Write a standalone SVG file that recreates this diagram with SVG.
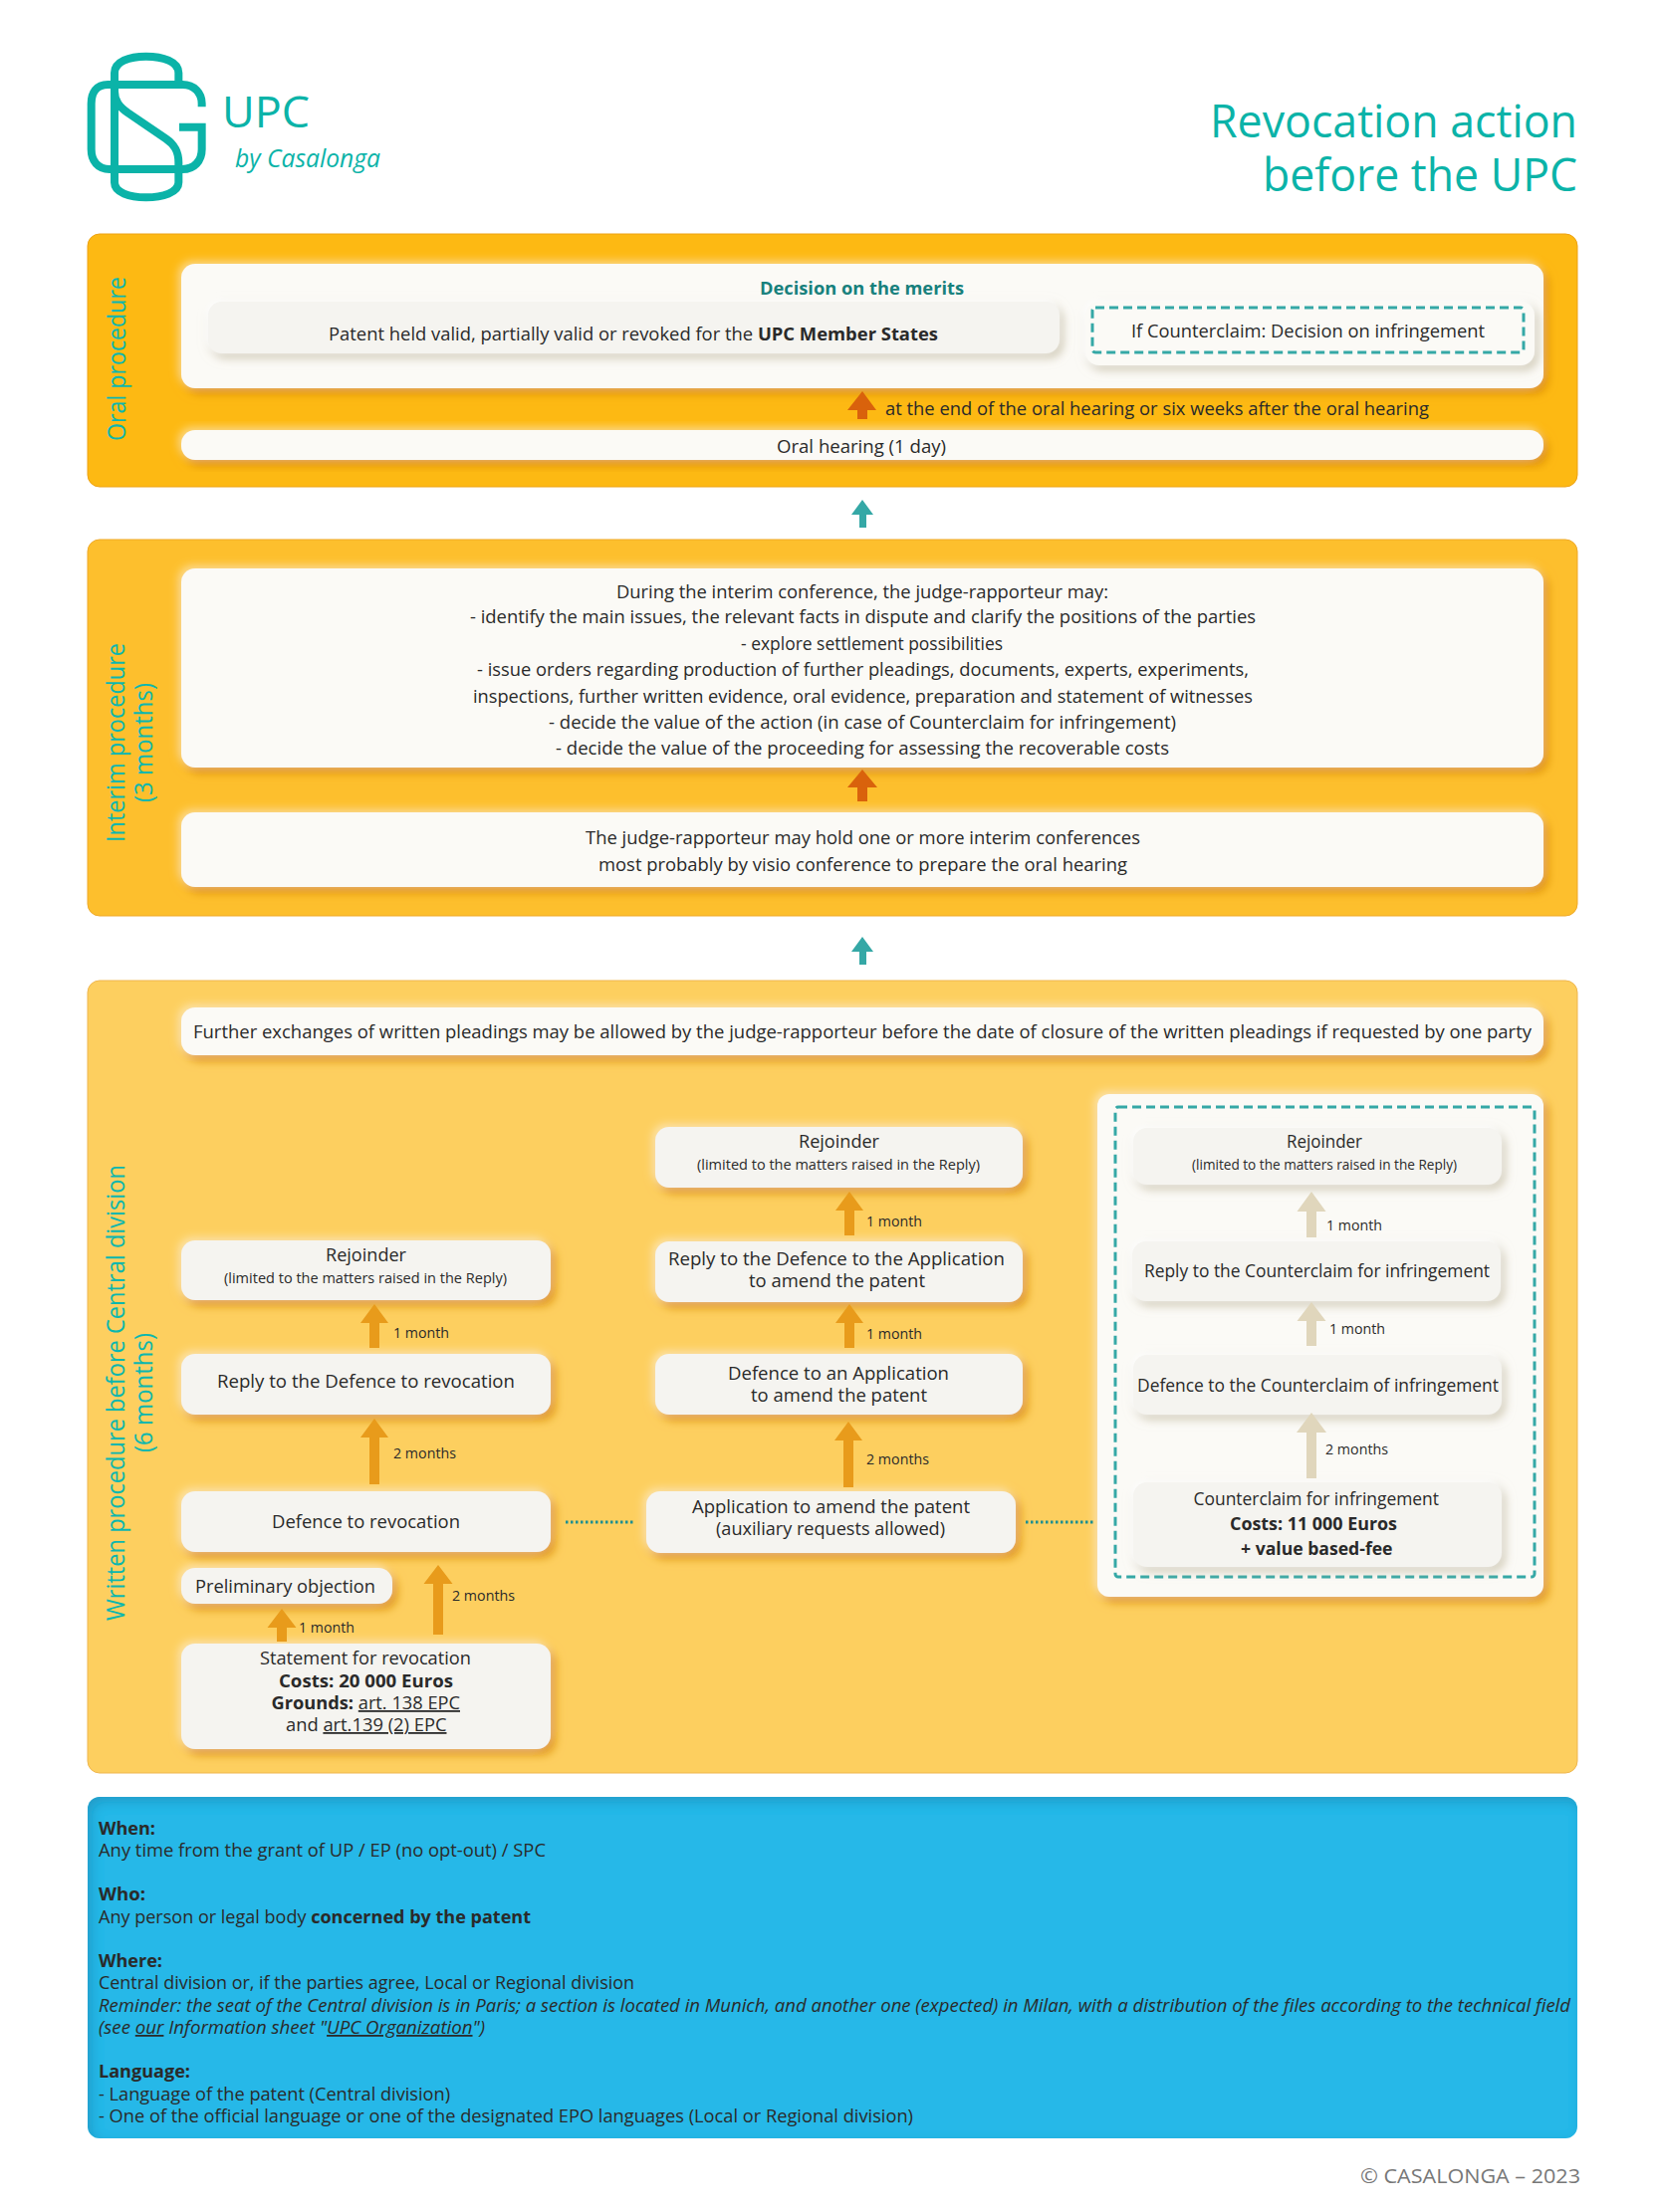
<svg xmlns="http://www.w3.org/2000/svg" width="1666" height="2222" viewBox="0 0 1666 2222">
<defs>
<filter id="sh" x="-10%" y="-30%" width="120%" height="170%"><feDropShadow dx="-3" dy="-3" stdDeviation="4" flood-color="#fff" flood-opacity=".45"/><feDropShadow dx="5" dy="6" stdDeviation="4" flood-color="#d88a10" flood-opacity=".75"/></filter>
<filter id="shl" x="-10%" y="-30%" width="120%" height="170%"><feDropShadow dx="-2" dy="-2" stdDeviation="3" flood-color="#fff" flood-opacity=".9"/><feDropShadow dx="4" dy="5" stdDeviation="4" flood-color="#bdb49a" flood-opacity=".6"/></filter>
<filter id="inner" x="-2%" y="-5%" width="104%" height="110%"><feFlood flood-color="#1a6f96" flood-opacity=".45"/><feComposite in2="SourceAlpha" operator="out"/><feOffset dx="4" dy="5"/><feGaussianBlur stdDeviation="6"/><feComposite in2="SourceAlpha" operator="in" result="i"/><feMerge><feMergeNode in="SourceGraphic"/><feMergeNode in="i"/></feMerge></filter>
</defs>
<style>
text{font-family:"Open Sans","Noto Sans","Liberation Sans",sans-serif;font-size:18px;fill:#2a2a2a}
.m{font-size:15px}.l{font-size:15px}
.b,tspan.b{font-weight:700}
.u{text-decoration:underline}
.i{font-style:italic}
.teal{fill:#0bb3a8}
.side{font-size:25px;fill:#0bb7ae}
.box{fill:#f5f4f0}
.wh{fill:#fbfaf6}
.arrow{fill:#e89b1b}.beige{fill:#e0d6bc}.dark{fill:#d9620c}.tealarrow{fill:#35a8a6}
.dash{fill:none;stroke:#35a8a6;stroke-width:3;stroke-dasharray:9 5}
.dots{fill:none;stroke:#1c8f92;stroke-width:3;stroke-dasharray:2.5 2.5}
</style>
<rect width="1666" height="2222" fill="#fff"/>

<g id="logo" fill="none" stroke="#0bb3a8" stroke-width="24" transform="translate(60 30) scale(.33333)">
<path d="M358 165V130C358 95 310 80 260 80C210 80 165 95 165 130V460C165 490 210 505 260 505C310 505 358 490 358 460V400C358 365 345 345 320 328L205 250C180 232 165 215 165 185"/>
<path d="M428 232V222C428 190 405 165 370 165H145C110 165 95 190 95 222V360C95 395 115 420 150 420H370C405 420 428 395 428 360V293H360"/>
</g>
<text class="teal" x="223" y="128" style="font-size:44px" textLength="88" lengthAdjust="spacingAndGlyphs">UPC</text>
<text class="teal i" x="236" y="168" style="font-size:26px" textLength="146" lengthAdjust="spacingAndGlyphs">by Casalonga</text>
<g id="title">
<text class="teal" x="1215" y="138" style="font-size:46px" textLength="369" lengthAdjust="spacingAndGlyphs">Revocation action</text>
<text class="teal" x="1268" y="192" style="font-size:46px" textLength="316" lengthAdjust="spacingAndGlyphs">before the UPC</text>
</g>

<g id="panel-oral">
<rect x="88" y="235" width="1496" height="254" rx="12" fill="#fdb913" stroke="#eda215" stroke-width="1"/>
<text class="side" transform="rotate(-90 126 443)" x="126" y="443" textLength="165" lengthAdjust="spacingAndGlyphs">Oral procedure</text>
</g>
<g id="panel-interim">
<rect x="88" y="542" width="1496" height="378" rx="12" fill="#fdbf2d" stroke="#efa928" stroke-width="1"/>
<text class="side" transform="rotate(-90 125 846)" x="125" y="846" textLength="200" lengthAdjust="spacingAndGlyphs">Interim procedure</text>
<text class="side" transform="rotate(-90 153 806)" x="153" y="806" textLength="120" lengthAdjust="spacingAndGlyphs">(3 months)</text>
</g>
<g id="panel-written">
<rect x="88" y="985" width="1496" height="796" rx="12" fill="#fdcf5f" stroke="#efb64e" stroke-width="1"/>
<text class="side" transform="rotate(-90 125 1628)" x="125" y="1628" textLength="458" lengthAdjust="spacingAndGlyphs">Written procedure before Central division</text>
<text class="side" transform="rotate(-90 153 1459)" x="153" y="1459" textLength="120" lengthAdjust="spacingAndGlyphs">(6 months)</text>
</g>

<g id="decision">
<rect class="wh" x="182" y="265" width="1368" height="125" rx="14" filter="url(#sh)"/>
<text class="b" x="763" y="296" style="fill:#17807c" textLength="205" lengthAdjust="spacingAndGlyphs">Decision on the merits</text>
</g>
<g id="patent-held">
<rect class="box" x="209" y="303" width="855" height="52" rx="14" filter="url(#shl)"/>
<text x="330" y="342" textLength="612" lengthAdjust="spacingAndGlyphs">Patent held valid, partially valid or revoked for the <tspan class="b">UPC Member States</tspan></text>
</g>
<g id="if-counterclaim">
<rect class="wh" x="1090" y="303" width="451" height="64" rx="14" filter="url(#shl)"/>
<rect class="dash" x="1097" y="309" width="433" height="45" rx="3"/>
<text x="1136" y="339" textLength="355" lengthAdjust="spacingAndGlyphs">If Counterclaim: Decision on infringement</text>
</g>
<g id="oral-hearing">
<rect class="wh" x="182" y="432" width="1368" height="30" rx="14" filter="url(#sh)"/>
<text x="780" y="455" textLength="170" lengthAdjust="spacingAndGlyphs">Oral hearing (1 day)</text>
</g>
<g id="interim-conference">
<rect class="wh" x="182" y="571" width="1368" height="200" rx="14" filter="url(#sh)"/>
<text x="619" y="600.500" textLength="494" lengthAdjust="spacingAndGlyphs">During the interim conference, the judge-rapporteur may:</text>
<text x="472" y="626" textLength="789" lengthAdjust="spacingAndGlyphs">- identify the main issues, the relevant facts in dispute and clarify the positions of the parties</text>
<text x="744" y="653" textLength="263" lengthAdjust="spacingAndGlyphs">- explore settlement possibilities</text>
<text x="479" y="679" textLength="775" lengthAdjust="spacingAndGlyphs">- issue orders regarding production of further pleadings, documents, experts, experiments,</text>
<text x="475" y="705.500" textLength="783" lengthAdjust="spacingAndGlyphs">inspections, further written evidence, oral evidence, preparation and statement of witnesses</text>
<text x="551" y="732" textLength="630" lengthAdjust="spacingAndGlyphs">- decide the value of the action (in case of Counterclaim for infringement)</text>
<text x="558" y="758" textLength="616" lengthAdjust="spacingAndGlyphs">- decide the value of the proceeding for assessing the recoverable costs</text>
</g>
<g id="interim-hold">
<rect class="wh" x="182" y="816" width="1368" height="75" rx="14" filter="url(#sh)"/>
<text x="588" y="848" textLength="557" lengthAdjust="spacingAndGlyphs">The judge-rapporteur may hold one or more interim conferences</text>
<text x="601" y="875" textLength="531" lengthAdjust="spacingAndGlyphs">most probably by visio conference to prepare the oral hearing</text>
</g>
<g id="further-exchanges">
<rect class="wh" x="182" y="1012" width="1368" height="48" rx="14" filter="url(#sh)"/>
<text x="194" y="1043" textLength="1344" lengthAdjust="spacingAndGlyphs">Further exchanges of written pleadings may be allowed by the judge-rapporteur before the date of closure of the written pleadings if requested by one party</text>
</g>

<g id="left-rejoinder">
<rect class="box" x="182" y="1246" width="371" height="60" rx="14" filter="url(#sh)"/>
<text x="327" y="1267" textLength="81" lengthAdjust="spacingAndGlyphs">Rejoinder</text>
<text class="l" x="225" y="1289" textLength="284" lengthAdjust="spacingAndGlyphs">(limited to the matters raised in the Reply)</text>
</g>
<g id="left-reply">
<rect class="box" x="182" y="1360" width="371" height="61" rx="14" filter="url(#sh)"/>
<text x="218" y="1394" textLength="299" lengthAdjust="spacingAndGlyphs">Reply to the Defence to revocation</text>
</g>
<g id="left-defence">
<rect class="box" x="182" y="1498" width="371" height="61" rx="14" filter="url(#sh)"/>
<text x="273" y="1535" textLength="189" lengthAdjust="spacingAndGlyphs">Defence to revocation</text>
</g>
<g id="preliminary-objection">
<rect class="box" x="182" y="1575" width="212" height="36" rx="14" filter="url(#sh)"/>
<text x="196" y="1600" textLength="181" lengthAdjust="spacingAndGlyphs">Preliminary objection</text>
</g>
<g id="statement">
<rect class="box" x="182" y="1651" width="371" height="106" rx="14" filter="url(#sh)"/>
<text x="261" y="1672" textLength="212" lengthAdjust="spacingAndGlyphs">Statement for revocation</text>
<text class="b" x="280" y="1695" textLength="175" lengthAdjust="spacingAndGlyphs">Costs: 20 000 Euros</text>
<text x="272.500" y="1717" textLength="189.500" lengthAdjust="spacingAndGlyphs"><tspan class="b">Grounds:</tspan> <tspan class="u">art. 138 EPC</tspan></text>
<text x="287" y="1739" textLength="161.500" lengthAdjust="spacingAndGlyphs">and <tspan class="u">art.139 (2) EPC</tspan></text>
</g>

<g id="mid-rejoinder">
<rect class="box" x="658" y="1132" width="369" height="61" rx="14" filter="url(#sh)"/>
<text x="802" y="1153" textLength="81" lengthAdjust="spacingAndGlyphs">Rejoinder</text>
<text class="l" x="700" y="1175" textLength="284" lengthAdjust="spacingAndGlyphs">(limited to the matters raised in the Reply)</text>
</g>
<g id="mid-reply">
<rect class="box" x="658" y="1247" width="369" height="61" rx="14" filter="url(#sh)"/>
<text x="671" y="1271" textLength="338" lengthAdjust="spacingAndGlyphs">Reply to the Defence to the Application</text>
<text x="752" y="1293" textLength="177" lengthAdjust="spacingAndGlyphs">to amend the patent</text>
</g>
<g id="mid-defence">
<rect class="box" x="658" y="1360" width="369" height="61" rx="14" filter="url(#sh)"/>
<text x="731" y="1386" textLength="222" lengthAdjust="spacingAndGlyphs">Defence to an Application</text>
<text x="754" y="1408" textLength="177" lengthAdjust="spacingAndGlyphs">to amend the patent</text>
</g>
<g id="application">
<rect class="box" x="649" y="1498" width="371" height="62" rx="14" filter="url(#sh)"/>
<text x="695" y="1520" textLength="279" lengthAdjust="spacingAndGlyphs">Application to amend the patent</text>
<text x="719" y="1542" textLength="230" lengthAdjust="spacingAndGlyphs">(auxiliary requests allowed)</text>
</g>

<g id="counterclaim-panel">
<rect class="wh" x="1102" y="1099" width="448" height="505" rx="12" filter="url(#sh)"/>
<rect class="dash" x="1120" y="1112" width="421" height="472" rx="3"/>
</g>
<g id="cc-rejoinder">
<rect class="box" x="1138" y="1133" width="370" height="57" rx="14" filter="url(#shl)"/>
<text x="1292" y="1153" textLength="76" lengthAdjust="spacingAndGlyphs">Rejoinder</text>
<text class="l" x="1197" y="1175" textLength="266" lengthAdjust="spacingAndGlyphs">(limited to the matters raised in the Reply)</text>
</g>
<g id="cc-reply">
<rect class="box" x="1137" y="1247" width="370" height="60" rx="14" filter="url(#shl)"/>
<text x="1149" y="1283" textLength="347" lengthAdjust="spacingAndGlyphs">Reply to the Counterclaim for infringement</text>
</g>
<g id="cc-defence">
<rect class="box" x="1138" y="1361" width="370" height="60" rx="14" filter="url(#shl)"/>
<text x="1142" y="1398" textLength="363" lengthAdjust="spacingAndGlyphs">Defence to the Counterclaim of infringement</text>
</g>
<g id="cc-counterclaim">
<rect class="box" x="1138" y="1489" width="370" height="85" rx="14" filter="url(#shl)"/>
<text x="1198.500" y="1512" textLength="246.500" lengthAdjust="spacingAndGlyphs">Counterclaim for infringement</text>
<text class="b" x="1235" y="1537" textLength="168" lengthAdjust="spacingAndGlyphs">Costs: 11 000 Euros</text>
<text class="b" x="1246" y="1562" textLength="152.500" lengthAdjust="spacingAndGlyphs">+ value based-fee</text>
</g>

<g id="connectors">
<path class="dark" d="M866 393L880 412H871V421H861V412H851Z"/>
<path class="tealarrow" d="M866 502L877 517H870V530H863V517H855Z"/>
<path class="dark" d="M866 773L881 791H871V805H861V791H851Z"/>
<path class="tealarrow" d="M866 941L877 956H870V969H863V956H855Z"/>
<path class="arrow" d="M283 1616L297.500 1635H288V1649H278V1635H268.500Z"/>
<path class="arrow" d="M440 1572L454.500 1591H445V1642H435V1591H425.500Z"/>
<path class="arrow" d="M376 1425L390 1444H381V1491H371V1444H362Z"/>
<path class="arrow" d="M376 1310L390 1329H381V1354H371V1329H362Z"/>
<path class="arrow" d="M852 1428L866 1447H857V1494H847V1447H838Z"/>
<path class="arrow" d="M853 1310L867 1329H858V1354H848V1329H839Z"/>
<path class="arrow" d="M853 1197L867 1216H858V1241H848V1216H839Z"/>
<path class="beige" d="M1317 1197L1331.500 1217H1322V1243H1312V1217H1302.500Z"/>
<path class="beige" d="M1317 1308L1331.500 1327H1322V1352H1312V1327H1302.500Z"/>
<path class="beige" d="M1317 1419L1332 1439H1322V1485H1312V1439H1302Z"/>
<path class="dots" d="M568 1529H638"/>
<path class="dots" d="M1030 1529H1100"/>
</g>
<g id="connector-labels">
<text x="889" y="417" textLength="546" lengthAdjust="spacingAndGlyphs">at the end of the oral hearing or six weeks after the oral hearing</text>
<text class="m" x="300" y="1640" textLength="56" lengthAdjust="spacingAndGlyphs">1 month</text>
<text class="m" x="454" y="1608" textLength="63" lengthAdjust="spacingAndGlyphs">2 months</text>
<text class="m" x="395" y="1344" textLength="56" lengthAdjust="spacingAndGlyphs">1 month</text>
<text class="m" x="395" y="1465" textLength="63" lengthAdjust="spacingAndGlyphs">2 months</text>
<text class="m" x="870" y="1232" textLength="56" lengthAdjust="spacingAndGlyphs">1 month</text>
<text class="m" x="870" y="1345" textLength="56" lengthAdjust="spacingAndGlyphs">1 month</text>
<text class="m" x="870" y="1471" textLength="63" lengthAdjust="spacingAndGlyphs">2 months</text>
<text class="m" x="1332" y="1236" textLength="56" lengthAdjust="spacingAndGlyphs">1 month</text>
<text class="m" x="1335" y="1340" textLength="56" lengthAdjust="spacingAndGlyphs">1 month</text>
<text class="m" x="1331" y="1461" textLength="63" lengthAdjust="spacingAndGlyphs">2 months</text>
</g>

<g id="info-panel">
<rect x="88" y="1805" width="1496" height="343" rx="12" fill="#25b8e8" filter="url(#inner)"/>
<text class="b" x="99" y="1843" textLength="57" lengthAdjust="spacingAndGlyphs">When:</text>
<text x="99" y="1865" textLength="449" lengthAdjust="spacingAndGlyphs">Any time from the grant of UP / EP (no opt-out) / SPC</text>
<text class="b" x="99" y="1909" textLength="47" lengthAdjust="spacingAndGlyphs">Who:</text>
<text x="99" y="1932" textLength="434" lengthAdjust="spacingAndGlyphs">Any person or legal body <tspan class="b">concerned by the patent</tspan></text>
<text class="b" x="99" y="1976" textLength="64" lengthAdjust="spacingAndGlyphs">Where:</text>
<text x="99" y="1998" textLength="538" lengthAdjust="spacingAndGlyphs">Central division or, if the parties agree, Local or Regional division</text>
<text class="i" x="99" y="2021" textLength="1478" lengthAdjust="spacingAndGlyphs">Reminder: the seat of the Central division is in Paris; a section is located in Munich, and another one (expected) in Milan, with a distribution of the files according to the technical field</text>
<text class="i" x="99" y="2043" textLength="388" lengthAdjust="spacingAndGlyphs">(see <tspan class="u">our</tspan> Information sheet "<tspan class="u">UPC Organization</tspan>")</text>
<text class="b" x="99" y="2087" textLength="92" lengthAdjust="spacingAndGlyphs">Language:</text>
<text x="99" y="2110" textLength="353" lengthAdjust="spacingAndGlyphs">- Language of the patent (Central division)</text>
<text x="99" y="2132" textLength="818" lengthAdjust="spacingAndGlyphs">- One of the official language or one of the designated EPO languages (Local or Regional division)</text>
</g>
<text x="1366" y="2193" style="font-size:20px;fill:#777" textLength="221" lengthAdjust="spacingAndGlyphs">© CASALONGA – 2023</text>
</svg>
